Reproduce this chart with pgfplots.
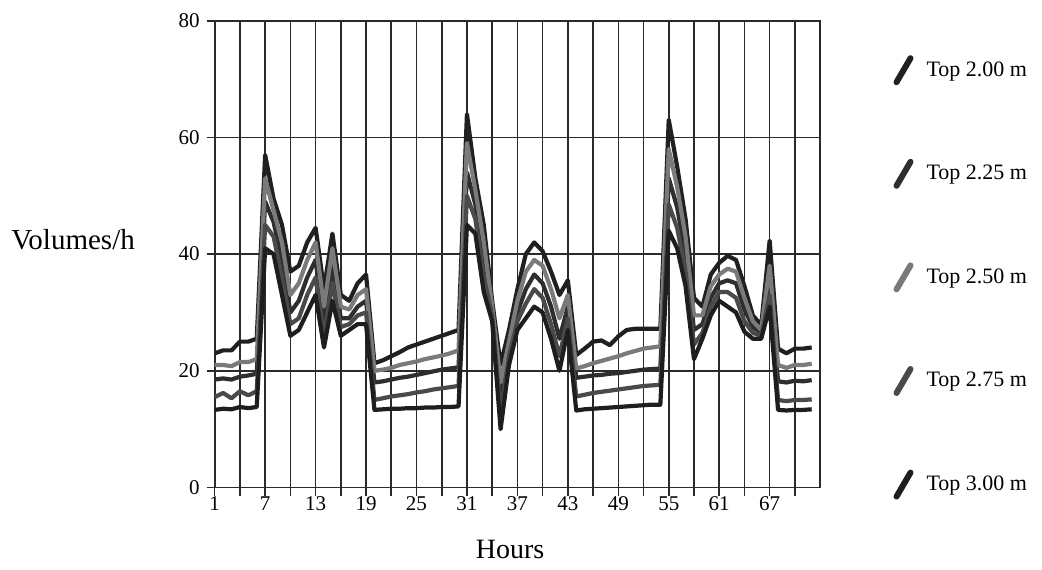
\documentclass[border=0pt]{standalone}
\usepackage{fontspec}
\setmainfont{Liberation Serif}
\usepackage{pgfplots}
\usepackage{pgfplotstable}
\pgfplotsset{compat=1.18}
\definecolor{sA}{HTML}{202020}
\definecolor{sB}{HTML}{2E2E2E}
\definecolor{sC}{HTML}{7A7A7A}
\definecolor{sD}{HTML}{4A4A4A}
\definecolor{sE}{HTML}{1E1E1E}
\definecolor{gridc}{HTML}{2A2A2A}

% hourly volumes, one column per top height
\pgfplotstableread{
h  A    B    C    D    E
1  23.0 21.0 18.5 15.5 13.3
2  23.5 21.0 18.7 16.2 13.5
3  23.5 20.8 18.5 15.3 13.4
4  25.0 21.5 19.0 16.5 13.8
5  25.0 21.5 19.2 15.8 13.6
6  25.5 22.0 19.5 16.5 13.8
7  57.0 53.0 49.0 45.0 41.0
8  49.5 47.5 45.5 43.0 40.0
9  45.0 42.0 39.0 36.0 33.0
10 37.0 33.0 30.0 28.0 26.0
11 38.0 35.0 32.0 29.0 27.0
12 42.0 39.0 36.0 33.0 30.0
13 44.5 42.0 39.0 36.0 33.0
14 34.0 31.0 28.0 26.0 24.0
15 43.5 41.0 38.0 35.0 32.0
16 33.0 31.0 29.0 27.5 26.0
17 32.0 30.5 29.0 28.0 27.0
18 35.0 33.0 31.0 29.5 28.0
19 36.5 34.0 32.0 30.0 28.0
20 21.3 20.0 18.0 15.0 13.3
21 21.8 20.2 18.2 15.3 13.4
22 22.5 20.5 18.5 15.6 13.5
23 23.2 21.0 18.8 15.8 13.5
24 24.0 21.3 19.0 16.0 13.6
25 24.5 21.6 19.3 16.3 13.6
26 25.0 22.0 19.6 16.5 13.7
27 25.5 22.3 19.9 16.8 13.7
28 26.0 22.6 20.2 17.0 13.8
29 26.5 23.0 20.4 17.2 13.8
30 27.0 23.5 20.6 17.4 13.9
31 64.0 59.0 54.0 50.0 45.0
32 53.0 51.0 48.5 46.0 43.5
33 45.0 42.0 39.0 36.0 33.5
34 32.0 31.0 30.0 29.5 28.5
35 21.0 18.0 15.0 12.5 10.0
36 27.0 25.0 24.0 22.5 21.0
37 34.0 32.0 30.0 28.5 27.0
38 40.0 37.0 34.0 31.5 29.0
39 42.0 39.0 36.5 34.0 31.0
40 40.5 38.0 35.0 32.5 30.0
41 37.0 34.0 31.0 28.0 25.5
42 33.0 29.0 25.5 22.5 20.0
43 35.5 33.0 31.0 29.0 27.0
44 22.7 20.4 18.8 15.6 13.2
45 23.8 20.8 19.0 15.9 13.4
46 25.0 21.3 19.2 16.2 13.5
47 25.2 21.7 19.3 16.4 13.6
48 24.4 22.1 19.5 16.6 13.7
49 25.9 22.5 19.6 16.8 13.8
50 27.0 23.0 19.8 17.0 13.9
51 27.2 23.4 20.0 17.2 14.0
52 27.2 23.8 20.2 17.4 14.1
53 27.2 24.0 20.3 17.5 14.2
54 27.2 24.2 20.4 17.6 14.2
55 63.0 58.0 53.0 48.5 44.0
56 55.0 51.5 48.0 44.5 41.0
57 46.0 43.0 40.0 37.0 34.5
58 32.5 29.5 27.0 24.5 22.0
59 31.0 29.5 28.0 26.5 25.5
60 36.5 34.5 32.5 31.0 29.5
61 38.5 36.5 35.0 33.5 32.0
62 39.7 37.5 35.5 33.5 31.0
63 39.0 37.0 35.0 32.5 30.0
64 34.5 32.5 30.5 28.5 26.7
65 29.5 28.5 27.5 26.5 25.5
66 27.8 27.0 26.5 26.0 25.5
67 42.3 38.0 35.0 33.0 31.0
68 23.8 21.0 18.2 15.0 13.3
69 23.0 20.5 18.0 14.8 13.2
70 23.8 21.0 18.3 15.0 13.3
71 23.8 21.0 18.2 15.0 13.3
72 24.0 21.2 18.4 15.1 13.4
}\vol

\begin{document}
\begin{tikzpicture}
\begin{axis}[
    scale only axis, width=302.7pt, height=233.4pt,
    xmin=1, xmax=73, ymin=0, ymax=80,
    xtick={1,7,...,67}, minor xtick={4,10,...,73},
    ytick={0,20,...,80},
    grid=both,
    major grid style={gridc, line width=0.8pt},
    minor grid style={gridc, line width=0.8pt},
    axis line style={gridc, line width=0.9pt},
    tick align=outside, tick pos=left,
    major tick length=4pt, minor tick length=4pt,
    tick style={gridc, line width=0.8pt},
    /pgf/number format/assume math mode=true,
    tick label style={font=\fontsize{10.5}{12}\selectfont},
    xticklabel style={yshift=3pt},
    xlabel={Hours}, ylabel={Volumes/h},
    xlabel style={font=\fontsize{14}{16}\selectfont, at={(axis description cs:0.488,-0.133)}, anchor=center},
    ylabel style={font=\fontsize{14.5}{16}\selectfont, rotate=-90, at={(axis description cs:-0.234,0.53)}, anchor=center},
    legend style={at={(1.1206,0.927)}, anchor=north west, draw=none, fill=none,
        inner sep=0pt, row sep=36.8pt, font=\fontsize{11}{13}\selectfont,
        cells={anchor=west}},
    legend image code/.code={\draw[#1, solid, line width=3pt, line cap=round] (1pt,-6pt) -- (8pt,6pt);
        \path[draw=none] (0pt,0pt) -- (14pt,0pt);},
    every axis plot/.append style={line width=2.1pt, line join=round},
]
  \addplot[sA] table[x=h, y=A] {\vol};
  \addplot[sB] table[x=h, y=C] {\vol};
  \addplot[sC] table[x=h, y=B] {\vol};
  \addplot[sD] table[x=h, y=D] {\vol};
  \addplot[sE] table[x=h, y=E] {\vol};
  \legend{Top 2.00 m, Top 2.25 m, Top 2.50 m, Top 2.75 m, Top 3.00 m}
\end{axis}
\path (-107.35pt,-40.75pt) rectangle (413.65pt,243.75pt);
\end{tikzpicture}
\end{document}
